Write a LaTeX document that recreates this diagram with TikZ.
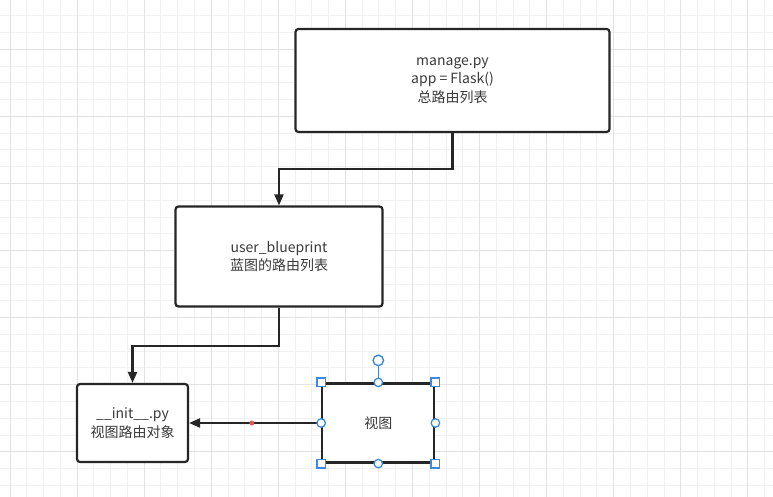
\documentclass[tikz,border=0pt]{standalone}
\usepackage{fontspec}
\setmainfont{Noto Sans CJK SC}
\usetikzlibrary{arrows.meta,calc}
\definecolor{minorgrid}{HTML}{F1F1F1}
\definecolor{majorgrid}{HTML}{E2E2E2}
\definecolor{boxline}{HTML}{262626}
\definecolor{txt}{HTML}{3A3A3A}
\definecolor{handle}{HTML}{3F8AE0}
\definecolor{reddot}{HTML}{E05A5A}
\begin{document}
\begin{tikzpicture}[x=1pt,y=-1pt,
  box/.style={draw=boxline, line width=2.2pt, rounded corners=3pt, fill=white,
    text=txt, align=center, font=\fontsize{14}{18.8}\selectfont, inner sep=0pt},
  selbox/.style={draw=boxline, line width=2.2pt, fill=white,
    text=txt, align=center, font=\fontsize{14}{18.8}\selectfont, inner sep=0pt},
  conn/.style={draw=boxline, line width=2.2pt, -{Triangle[length=11pt,width=9pt]}},
  sqhandle/.style={draw=handle, fill=white, line width=1.5pt},
  cihandle/.style={draw=handle, fill=white, line width=1.3pt, minimum size=8.5pt, inner sep=0pt, shape=circle},
  rothandle/.style={draw=handle, fill=white, line width=1.4pt, minimum size=10.5pt, inner sep=0pt, shape=circle},
  dotred/.style={fill=reddot, shape=circle, minimum size=5pt, inner sep=0pt}]
\useasboundingbox (0,0) rectangle (773,497);
\fill[white] (0,0) rectangle (773,497);
% grid
\begin{scope}
\clip (0,0) rectangle (773,497);
\foreach \k in {-1,...,46} {
  \draw[minorgrid, line width=1pt] ({10+16.77*\k},0) -- ({10+16.77*\k},497);
}
\foreach \k in {-3,...,29} {
  \draw[minorgrid, line width=1pt] (0,{49.3+16.77*\k}) -- (773,{49.3+16.77*\k});
}
\foreach \k in {0,...,11} {
  \draw[majorgrid, line width=1pt] ({10+67.07*\k},0) -- ({10+67.07*\k},497);
}
\foreach \k in {-1,...,7} {
  \draw[majorgrid, line width=1pt] (0,{49.3+67.07*\k}) -- (773,{49.3+67.07*\k});
}
\end{scope}
% boxes
\node[box, minimum width=314pt, minimum height=103pt] (m) at (452.5,80.5)
  {manage.py\\app = Flask()\\总路由列表};
\node[box, minimum width=207pt, minimum height=100pt] (u) at (279,256.5)
  {user\_blueprint\\蓝图的路由列表};
\node[box, minimum width=111pt, minimum height=78pt] (i) at (132.5,423)
  {\_\_init\_\_.py\\视图路由对象};
\node[selbox, minimum width=112pt, minimum height=79pt] (v) at (378.3,423)
  {视图};
% connectors
\draw[conn] (m.south) -- ++(0,36) -| (u.north);
\draw[conn] (u.south) -- ++(0,38.5) -| (i.north);
\draw[conn] (v.west) -- node[dotred, pos=0.525] (rd) {} (i.east);
% selection handles
\node[rothandle] (rot) at ($(v.north)+(0,-22)$) {};
\draw[handle, line width=1.4pt] (rot) -- (v.north);
\foreach \a in {north west, north east, south west, south east} {
  \draw[sqhandle] ($(v.\a)+(-4.3,-4.3)$) rectangle ($(v.\a)+(4.3,4.3)$);
}
\node[cihandle] (h5) at (v.north) {};
\node[cihandle] (h6) at (v.south) {};
\node[cihandle] (h7) at (v.west) {};
\node[cihandle] (h8) at (v.east) {};
\end{tikzpicture}
\end{document}
